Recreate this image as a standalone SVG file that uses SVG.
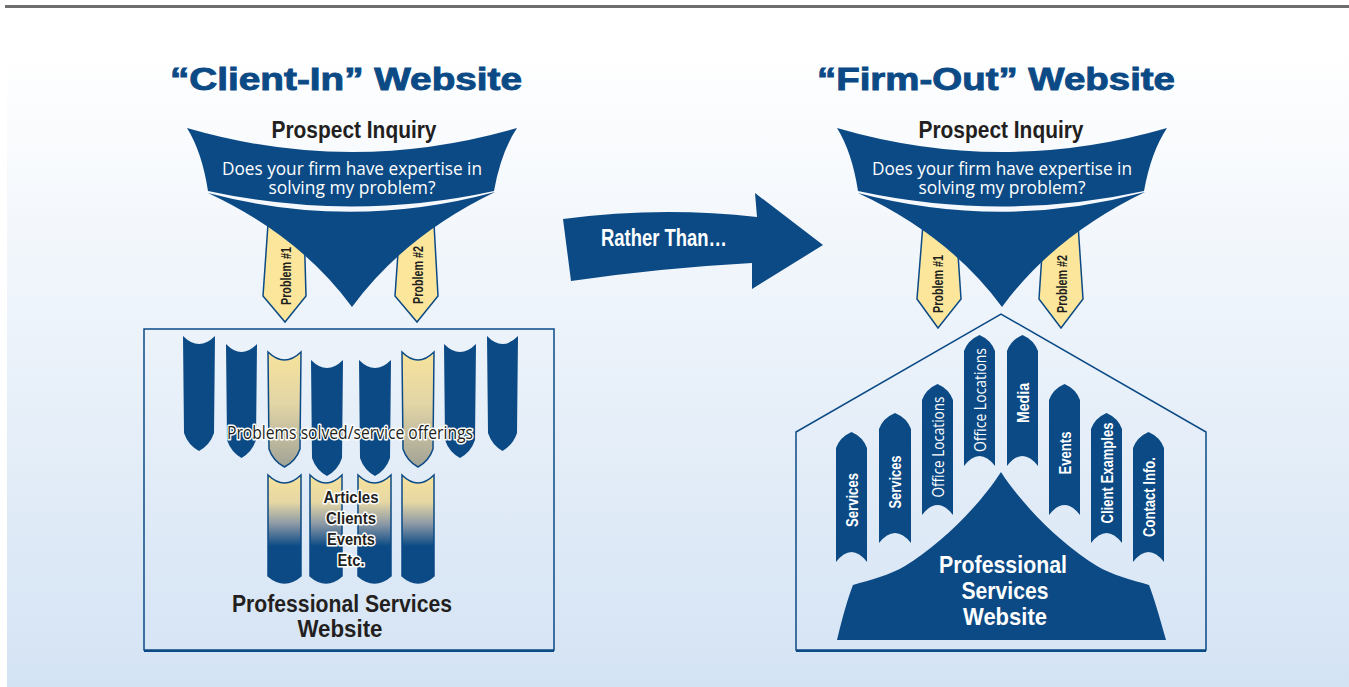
<svg xmlns="http://www.w3.org/2000/svg" xmlns:xlink="http://www.w3.org/1999/xlink" width="1349" height="687" viewBox="0 0 1349 687">
  <defs>
    <linearGradient id="bg" x1="0" y1="0" x2="0" y2="1">
      <stop offset="0" stop-color="#ffffff"/>
      <stop offset="0.06" stop-color="#ffffff"/>
      <stop offset="1" stop-color="#d4e3f4"/>
    </linearGradient>
    <linearGradient id="yellowFade" x1="0" y1="0" x2="0" y2="1">
      <stop offset="0" stop-color="#f7e39c"/>
      <stop offset="0.45" stop-color="#e2d5a6"/>
      <stop offset="1" stop-color="#a2a396"/>
    </linearGradient>
    <linearGradient id="yellowNavy" x1="0" y1="0" x2="0" y2="1">
      <stop offset="0" stop-color="#f7e39c"/>
      <stop offset="0.25" stop-color="#e6d7a4"/>
      <stop offset="0.45" stop-color="#8d9aa6"/>
      <stop offset="0.66" stop-color="#0b4a85"/>
      <stop offset="1" stop-color="#0b4a85"/>
    </linearGradient>
    <!-- funnel: upper band and lower cone -->
    <g id="funnel">
      <path class="navy" d="M187,128 Q352,176 517,128 Q501,152 494,191 Q352,222 208,191 Q202,152 187,128 Z"/>
      <path class="navy" d="M208,193 Q352,231 495,192 Q404,236 352,307 Q300,236 208,193 Z"/>
    </g>
  </defs>
  <style>
    .navy { fill: #0b4a85; }
    .tag { fill: #fce69c; stroke: #0b4a85; stroke-width: 1.5; stroke-linejoin: miter; }
    .col { fill: #0b4a85; }
    .colY { fill: url(#yellowFade); stroke: #0b4a85; stroke-width: 1.5; }
    .colYN { fill: url(#yellowNavy); stroke: #0b4a85; stroke-width: 1.5; }
    .outline { fill: none; stroke: #0b4a85; stroke-width: 1.5; }
    .title { font-family: "Liberation Sans", Arial, sans-serif; font-weight: bold; font-size: 31px; fill: #0b4a85; stroke: #0b4a85; stroke-width: 0.9; text-anchor: middle; }
    .cond { font-family: "Liberation Sans", Arial, sans-serif; font-weight: bold; text-anchor: middle; }
    .dark { fill: #231f20; }
    .white { fill: #ffffff; }
    .human { font-family: "Open Sans", "Noto Sans", sans-serif; text-anchor: middle; }
    .halo { stroke: #ffffff; stroke-width: 3; paint-order: stroke; stroke-linejoin: round; }
  </style>

  <!-- page background -->
  <g id="background">
    <rect x="0" y="0" width="1349" height="687" fill="#ffffff"/>
    <rect x="7" y="9" width="1342" height="678" fill="url(#bg)"/>
    <rect x="5" y="5" width="1344" height="3" fill="#6e6e6e"/>
  </g>

  <!-- left side: client-in -->
  <g id="title-left">
    <text class="title" x="346" y="90" textLength="352" lengthAdjust="spacingAndGlyphs">“Client-In” Website</text>
  </g>

  <g id="tags-left">
    <polygon class="tag" points="268,224 304,224 306,296 285,322 263,296"/>
    <polygon class="tag" points="400,224 434,224 438,296 417,322 395,296"/>
    <text class="cond dark" font-size="14" transform="translate(286,276) rotate(-90)" y="5" textLength="58" lengthAdjust="spacingAndGlyphs">Problem #1</text>
    <text class="cond dark" font-size="14" transform="translate(418,275) rotate(-90)" y="5" textLength="58" lengthAdjust="spacingAndGlyphs">Problem #2</text>
  </g>

  <g id="funnel-left">
    <use xlink:href="#funnel"/>
    <text class="cond dark" font-size="23" x="354" y="138" textLength="165" lengthAdjust="spacingAndGlyphs">Prospect Inquiry</text>
    <text class="human white" font-size="18.5" x="352" y="175" textLength="260" lengthAdjust="spacingAndGlyphs">Does your firm have expertise in</text>
    <text class="human white" font-size="18.5" x="352" y="194" textLength="167" lengthAdjust="spacingAndGlyphs">solving my problem?</text>
  </g>

  <g id="site-left">
    <rect class="outline" x="144" y="329" width="410" height="321"/>
    <line x1="144" y1="651" x2="554" y2="651" stroke="#0b4a85" stroke-width="2"/>
    <!-- upper row of pages -->
    <path class="col" d="M183,336 Q199,352 215,336 L214,433 Q210,445 199,451 Q188,445 184,433 Z"/>
    <path class="col" d="M226,344 Q241.5,360 257,344 L256,440 Q252,452 241.5,458 Q231,452 227,440 Z"/>
    <path class="colY" d="M268,352 Q284.5,368 301,352 L300,449 Q296,461 284.5,467 Q273,461 269,449 Z"/>
    <path class="col" d="M311,360 Q327,376 343,360 L342,458 Q338,470 327,476 Q316,470 312,458 Z"/>
    <path class="col" d="M359,360 Q375,376 391,360 L390,458 Q386,470 375,476 Q364,470 360,458 Z"/>
    <path class="colY" d="M402,352 Q418,368 434,352 L433,449 Q429,461 418,467 Q407,461 403,449 Z"/>
    <path class="col" d="M444,344 Q460,360 476,344 L475,440 Q471,452 460,458 Q449,452 445,440 Z"/>
    <path class="col" d="M487,336 Q502.5,352 518,336 L517,433 Q513,445 502.5,451 Q492,445 488,433 Z"/>
    <!-- lower row of pages -->
    <path class="colYN" d="M268,475 Q284.5,491 301,475 L301,576 Q284.5,590 268,576 Z"/>
    <path class="colYN" d="M310,475 Q326,491 342,475 L342,576 Q326,590 310,576 Z"/>
    <path class="colYN" d="M358,475 Q374.5,491 391,475 L391,576 Q374.5,590 358,576 Z"/>
    <path class="colYN" d="M402,475 Q418,491 434,475 L434,576 Q418,590 402,576 Z"/>
    <text class="human dark halo" font-size="18" x="350" y="439" textLength="246" lengthAdjust="spacingAndGlyphs">Problems solved/service offerings</text>
    <text class="cond dark halo" font-size="16" x="351" y="503" textLength="55" lengthAdjust="spacingAndGlyphs">Articles</text>
    <text class="cond dark halo" font-size="16" x="351" y="524" textLength="50" lengthAdjust="spacingAndGlyphs">Clients</text>
    <text class="cond dark halo" font-size="16" x="351" y="545" textLength="48" lengthAdjust="spacingAndGlyphs">Events</text>
    <text class="cond dark halo" font-size="16" x="351" y="566" textLength="27" lengthAdjust="spacingAndGlyphs">Etc.</text>
    <text class="cond dark" font-size="24" x="342" y="612" textLength="220" lengthAdjust="spacingAndGlyphs">Professional Services</text>
    <text class="cond dark" font-size="24" x="340" y="637" textLength="85" lengthAdjust="spacingAndGlyphs">Website</text>
  </g>

  <!-- transition arrow -->
  <g id="connectors">
    <path class="navy" d="M563,219 Q660,206 757,217 L755,193 L823,245 L752,289 L752,263 Q660,268 571,281 Z"/>
    <text class="cond white" font-size="24" x="664" y="246" textLength="126" lengthAdjust="spacingAndGlyphs">Rather Than…</text>
  </g>

  <!-- right side: firm-out -->
  <g id="title-right">
    <text class="title" x="996" y="90" textLength="358" lengthAdjust="spacingAndGlyphs">“Firm-Out” Website</text>
  </g>

  <g id="tags-right">
    <polygon class="tag" points="923,224 956,224 961,299 938,328 917,299"/>
    <polygon class="tag" points="1044,224 1078,224 1083,299 1061,328 1039,299"/>
    <text class="cond dark" font-size="14" transform="translate(938,284) rotate(-90)" y="5" textLength="58" lengthAdjust="spacingAndGlyphs">Problem #1</text>
    <text class="cond dark" font-size="14" transform="translate(1062,284) rotate(-90)" y="5" textLength="58" lengthAdjust="spacingAndGlyphs">Problem #2</text>
  </g>

  <g id="funnel-right">
    <use xlink:href="#funnel" x="650"/>
    <text class="cond dark" font-size="23" x="1001" y="138" textLength="165" lengthAdjust="spacingAndGlyphs">Prospect Inquiry</text>
    <text class="human white" font-size="18.5" x="1002" y="175" textLength="260" lengthAdjust="spacingAndGlyphs">Does your firm have expertise in</text>
    <text class="human white" font-size="18.5" x="1002" y="194" textLength="167" lengthAdjust="spacingAndGlyphs">solving my problem?</text>
  </g>

  <g id="site-right">
    <polygon class="outline" points="796,650 796,432 1001,314 1206,432 1206,650"/>
    <line x1="796" y1="651" x2="1206" y2="651" stroke="#0b4a85" stroke-width="2"/>
    <!-- central site body -->
    <path class="navy" d="M837,640 C843,615 848,598 853,585 C870,580 890,575 905,566 C940,545 980,505 1001,472 C1022,505 1062,545 1097,566 C1112,575 1132,580 1149,585 C1154,598 1159,615 1166,640 Z"/>
    <text class="cond white" font-size="24" x="1003" y="573" textLength="128" lengthAdjust="spacingAndGlyphs">Professional</text>
    <text class="cond white" font-size="24" x="1005" y="599" textLength="87" lengthAdjust="spacingAndGlyphs">Services</text>
    <text class="cond white" font-size="24" x="1005" y="625" textLength="84" lengthAdjust="spacingAndGlyphs">Website</text>
  </g>

  <g id="page-services-1">
    <path class="col" d="M836,448 Q840,437 851.5,432 Q863,437 867,448 L867,562 Q851.5,542 836,562 Z"/>
    <text class="cond white" font-size="17" transform="translate(851.5,500) rotate(-90)" y="6" textLength="54" lengthAdjust="spacingAndGlyphs">Services</text>
  </g>
  <g id="page-services-2">
    <path class="col" d="M879,429 Q883,418 895,413 Q907,418 911,429 L911,543 Q895,523 879,543 Z"/>
    <text class="cond white" font-size="17" transform="translate(895,482) rotate(-90)" y="6" textLength="53" lengthAdjust="spacingAndGlyphs">Services</text>
  </g>
  <g id="page-office-1">
    <path class="col" d="M922,400 Q926,389 937.5,384 Q949,389 953,400 L953,515 Q937.5,495 922,515 Z"/>
    <text class="human white" font-size="17" transform="translate(937.5,447) rotate(-90)" y="6" textLength="101" lengthAdjust="spacingAndGlyphs">Office Locations</text>
  </g>
  <g id="page-office-2">
    <path class="col" d="M964,351 Q968,340 979.5,335 Q991,340 995,351 L995,466 Q979.5,446 964,466 Z"/>
    <text class="human white" font-size="17" transform="translate(979.5,400) rotate(-90)" y="6" textLength="104" lengthAdjust="spacingAndGlyphs">Office Locations</text>
  </g>
  <g id="page-media">
    <path class="col" d="M1007,351 Q1011,340 1022.5,335 Q1034,340 1038,351 L1038,466 Q1022.5,446 1007,466 Z"/>
    <text class="cond white" font-size="17" transform="translate(1022.5,403) rotate(-90)" y="6" textLength="40" lengthAdjust="spacingAndGlyphs">Media</text>
  </g>
  <g id="page-events">
    <path class="col" d="M1049,400 Q1053,389 1064.5,384 Q1076,389 1080,400 L1080,515 Q1064.5,495 1049,515 Z"/>
    <text class="cond white" font-size="17" transform="translate(1064.5,453) rotate(-90)" y="6" textLength="43" lengthAdjust="spacingAndGlyphs">Events</text>
  </g>
  <g id="page-clients">
    <path class="col" d="M1091,429 Q1095,418 1106.5,413 Q1118,418 1122,429 L1122,543 Q1106.5,523 1091,543 Z"/>
    <text class="cond white" font-size="17" transform="translate(1106.5,473) rotate(-90)" y="6" textLength="101" lengthAdjust="spacingAndGlyphs">Client Examples</text>
  </g>
  <g id="page-contact">
    <path class="col" d="M1133,448 Q1137,437 1148.5,432 Q1160,437 1164,448 L1164,562 Q1148.5,542 1133,562 Z"/>
    <text class="cond white" font-size="17" transform="translate(1148.5,497) rotate(-90)" y="6" textLength="80" lengthAdjust="spacingAndGlyphs">Contact Info.</text>
  </g>
</svg>
